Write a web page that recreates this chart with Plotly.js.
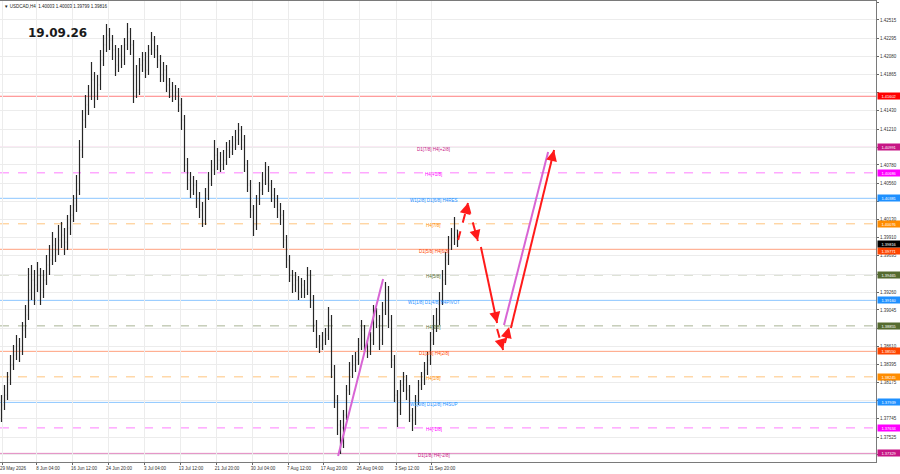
<!DOCTYPE html>
<html><head><meta charset="utf-8">
<script src="https://cdn.plot.ly/plotly-3.0.1.min.js"></script>
<style>html,body{margin:0;padding:0;background:#fff;}#chart{width:900px;height:474px;}</style>
</head><body><div id="chart"></div>
<script>
// ---- candle data (USDCAD H4, grouped bars), index = bar slot ----
const openP = [1.37848,1.37908,1.38027,1.38207,1.38386,1.38506,1.38626,1.38566,1.38805,1.38985,1.39284,1.39403,1.39344,1.39463,1.39284,1.39403,1.39583,1.39643,1.39822,1.39762,1.39882,1.39942,1.39858,1.40026,1.40181,1.40301,1.40480,1.40959,1.41318,1.41498,1.41617,1.41797,1.41617,1.41737,1.42036,1.42216,1.42335,1.42275,1.42156,1.41976,1.42096,1.42036,1.42216,1.42371,1.42216,1.41857,1.41677,1.41976,1.42036,1.41916,1.42156,1.42275,1.42156,1.42036,1.41857,1.41916,1.41737,1.41677,1.41617,1.41653,1.41498,1.41318,1.40780,1.40600,1.40480,1.40540,1.40361,1.40241,1.40121,1.40421,1.40600,1.40720,1.40899,1.40839,1.40780,1.40839,1.40959,1.40935,1.41019,1.41079,1.41198,1.41079,1.40780,1.40540,1.40241,1.40062,1.40361,1.40480,1.40600,1.40720,1.40540,1.40421,1.40361,1.40241,1.40181,1.39882,1.39643,1.39463,1.39344,1.39403,1.39260,1.39344,1.39284,1.39463,1.39164,1.38865,1.38686,1.38626,1.38686,1.38745,1.38925,1.38327,1.37968,1.37669,1.37489,1.37788,1.38087,1.38327,1.38386,1.38446,1.38626,1.38805,1.38626,1.38566,1.38686,1.38985,1.38925,1.38686,1.39045,1.39284,1.38925,1.38446,1.38027,1.37848,1.38147,1.38207,1.38087,1.37788,1.37728,1.37968,1.38147,1.38207,1.38327,1.38446,1.38686,1.38865,1.38925,1.39164,1.39403,1.39643,1.39822,1.39906,1.40003];
const highP = [1.38027,1.38147,1.38303,1.38506,1.38626,1.38745,1.38709,1.38901,1.39104,1.39547,1.39583,1.39523,1.39619,1.39547,1.39523,1.39703,1.39822,1.39978,1.39906,1.40062,1.40097,1.40026,1.40181,1.40301,1.40421,1.40660,1.41079,1.41438,1.41617,1.41737,1.42012,1.41892,1.41857,1.42156,1.42335,1.42467,1.42419,1.42335,1.42216,1.42180,1.42216,1.42299,1.42479,1.42419,1.42275,1.41976,1.42060,1.42132,1.42132,1.42216,1.42371,1.42323,1.42216,1.42096,1.42012,1.41976,1.41821,1.41773,1.41737,1.41701,1.41581,1.41378,1.40863,1.40696,1.40648,1.40600,1.40456,1.40337,1.40504,1.40696,1.40839,1.41079,1.40983,1.40935,1.40959,1.41055,1.41079,1.41127,1.41198,1.41282,1.41246,1.41139,1.40839,1.40600,1.40301,1.40421,1.40576,1.40696,1.40815,1.40768,1.40600,1.40504,1.40421,1.40325,1.40241,1.39942,1.39703,1.39523,1.39499,1.39451,1.39427,1.39403,1.39559,1.39523,1.39224,1.38925,1.38745,1.38781,1.38829,1.39080,1.38985,1.38386,1.38027,1.37728,1.37848,1.38147,1.38422,1.38506,1.38542,1.38709,1.38925,1.38865,1.38686,1.38781,1.39104,1.39068,1.38985,1.39140,1.39379,1.39332,1.38985,1.38506,1.38087,1.38207,1.38303,1.38267,1.38147,1.37872,1.38027,1.38207,1.38303,1.38422,1.38542,1.38781,1.38985,1.39068,1.39260,1.39523,1.39738,1.39930,1.40026,1.40157,1.40003];
const lowP = [1.37704,1.37848,1.37968,1.38147,1.38327,1.38446,1.38422,1.38506,1.38709,1.38925,1.39164,1.39104,1.39260,1.39104,1.39188,1.39344,1.39463,1.39583,1.39619,1.39703,1.39786,1.39703,1.39762,1.39942,1.40097,1.40217,1.40421,1.40863,1.41222,1.41378,1.41557,1.41462,1.41557,1.41677,1.41964,1.42132,1.42156,1.42036,1.41845,1.41892,1.41940,1.41976,1.42156,1.42096,1.41521,1.41581,1.41617,1.41892,1.41821,1.41857,1.42096,1.42060,1.41940,1.41773,1.41773,1.41653,1.41581,1.41533,1.41557,1.41414,1.41198,1.40696,1.40480,1.40385,1.40421,1.40265,1.40145,1.40038,1.40062,1.40361,1.40528,1.40660,1.40720,1.40696,1.40720,1.40780,1.40863,1.40899,1.40959,1.41019,1.40959,1.40696,1.40456,1.40145,1.39930,1.40002,1.40301,1.40421,1.40540,1.40456,1.40337,1.40265,1.40145,1.40062,1.39786,1.39547,1.39379,1.39248,1.39260,1.39164,1.39188,1.39188,1.39224,1.39068,1.38781,1.38590,1.38530,1.38566,1.38626,1.38686,1.38231,1.37872,1.37549,1.37321,1.37393,1.37728,1.38027,1.38231,1.38303,1.38386,1.38566,1.38542,1.38470,1.38506,1.38626,1.38829,1.38566,1.38626,1.38985,1.38829,1.38350,1.37944,1.37645,1.37788,1.38063,1.37968,1.37704,1.37597,1.37669,1.37908,1.38087,1.38147,1.38267,1.38386,1.38626,1.38781,1.38865,1.39104,1.39344,1.39583,1.39762,1.39822,1.39799];
const closeP = [1.37908,1.38027,1.38207,1.38386,1.38506,1.38626,1.38566,1.38805,1.38985,1.39284,1.39403,1.39344,1.39463,1.39284,1.39403,1.39583,1.39643,1.39822,1.39762,1.39882,1.39942,1.39858,1.40026,1.40181,1.40301,1.40480,1.40959,1.41318,1.41498,1.41617,1.41797,1.41617,1.41737,1.42036,1.42216,1.42335,1.42275,1.42156,1.41976,1.42096,1.42036,1.42216,1.42371,1.42216,1.41857,1.41677,1.41976,1.42036,1.41916,1.42156,1.42275,1.42156,1.42036,1.41857,1.41916,1.41737,1.41677,1.41617,1.41653,1.41498,1.41318,1.40780,1.40600,1.40480,1.40540,1.40361,1.40241,1.40121,1.40421,1.40600,1.40720,1.40899,1.40839,1.40780,1.40839,1.40959,1.40935,1.41019,1.41079,1.41198,1.41079,1.40780,1.40540,1.40241,1.40062,1.40361,1.40480,1.40600,1.40720,1.40540,1.40421,1.40361,1.40241,1.40181,1.39882,1.39643,1.39463,1.39344,1.39403,1.39260,1.39344,1.39284,1.39463,1.39164,1.38865,1.38686,1.38626,1.38686,1.38745,1.38925,1.38327,1.37968,1.37669,1.37489,1.37788,1.38087,1.38327,1.38386,1.38446,1.38626,1.38805,1.38626,1.38566,1.38686,1.38985,1.38925,1.38686,1.39045,1.39284,1.38925,1.38446,1.38027,1.37848,1.38147,1.38207,1.38087,1.37788,1.37728,1.37968,1.38147,1.38207,1.38327,1.38446,1.38686,1.38865,1.38925,1.39164,1.39403,1.39643,1.39822,1.39906,1.40002,1.39816];

// ---- axis labels ----
const dateTickPos = [0.2, 11.8, 23.8, 35.5, 47.5, 59.5, 71.5, 83.5, 95.5, 107.2, 119.2, 131.5, 143.2];
const dateTickText = ["29 May 2026","8 Jun 04:00","16 Jun 12:00","24 Jun 20:00","3 Jul 04:00","13 Jul 12:00","21 Jul 20:00","30 Jul 04:00","7 Aug 12:00","17 Aug 20:00","26 Aug 04:00","3 Sep 12:00","11 Sep 20:00"];
const priceTicks = ["1.42730","1.42515","1.42295","1.42080","1.41865","1.41645","1.41430","1.41210","1.40995","1.40780","1.40560","1.40345","1.40130","1.39910","1.39695","1.39475","1.39260","1.39045","1.38825","1.38610","1.38395","1.38175","1.37960","1.37745","1.37525","1.37310"];

// ---- Murrey levels ----
const levelValues = [1.37329,1.37634,1.37939,1.38245,1.38550,1.38855,1.39160,1.39465,1.39771,1.40076,1.40381,1.40686,1.40991,1.41602];
const levelLabels = ["D1[1/8] H4[-2/8]","H4[-1/8]","W1[0/8] D1[2/8] H4SUP","H4[1/8]","D1[3/8] H4[2/8]","H4[3/8]","W1[1/8] D1[4/8] H4PIVOT","H4[5/8]","D1[5/8] H4[6/8]","H4[7/8]","W1[2/8] D1[6/8] H4RES","H4[+1/8]","D1[7/8] H4[+2/8]",""];
const levelColors = ["#c71585","#ff00ff","#1e90ff","#ff8c00","#ff4500","#556b2f","#1e90ff","#556b2f","#ff4500","#ff8c00","#1e90ff","#ff00ff","#c71585","#ff0000"];
const levelDash = ["solid","dash","solid","dash","solid","dash","solid","dash","solid","dash","solid","dash","solid","solid"];
const lastPrice = 1.39816;
const headerText = "\u25BC USDCAD,H4  1.40003 1.40003 1.39799 1.39816";
const dateStamp = "19.09.26";

// ---- drawn forecast arrows [x0,y0,x1,y1,dashed,head] ----
const arrowSegs = [
  [152.2,1.39882,155.5,1.40325,true,true],
  [155.5,1.40301,158.8,1.39870,true,true],
  [159.8,1.39798,165.2,1.38889,false,true],
  [165.2,1.38817,167.2,1.38566,true,true],
  [167.8,1.38650,169.2,1.38841,true,true],
  [169.8,1.38829,184.2,1.40959,false,true]
];
const pinkSegs = [
  [112.2,1.37298,127.2,1.39415],
  [167.5,1.38865,182.2,1.40935]
];

const xIdx = openP.map((_, i) => i);
const yTop = 1.42742, yBot = 1.37226, xMin = -0.5, xMax = 291.5;
const plotW = 876, plotH = 461;
const FONT = "Liberation Sans, Arial, sans-serif";
const pxPerX = plotW / (xMax - xMin), pxPerY = plotH / (yTop - yBot);

const traces = [{
  type: "ohlc", x: xIdx, open: openP, high: highP, low: lowP, close: closeP,
  increasing: {line: {color: "#262626", width: 1.2}},
  decreasing: {line: {color: "#262626", width: 1.2}},
  tickwidth: 0.22, hoverinfo: "skip", showlegend: false
}];

pinkSegs.forEach(s => traces.push({type:"scatter", mode:"lines", x:[s[0],s[2]], y:[s[1],s[3]],
  line:{color:"#d865d4", width:2}, hoverinfo:"skip", showlegend:false}));
arrowSegs.forEach(s => traces.push({type:"scatter", mode:"lines", x:[s[0],s[2]], y:[s[1],s[3]],
  line:{color:"#ff1a1a", width:2, dash: s[4] ? "dash" : "solid"}, hoverinfo:"skip", showlegend:false}));

const shapes = levelValues.map((v, i) => ({
  type: "line", xref: "paper", x0: 0, x1: 1, yref: "y", y0: v, y1: v,
  line: {color: levelColors[i], width: 1, dash: levelDash[i]}, opacity: 0.5, layer: "below"
}));

const annotations = [];
const boxYs = levelValues.concat([lastPrice]);
levelValues.forEach((v, i) => {
  if (levelLabels[i]) annotations.push({x: 144, y: v, xref: "x", yref: "y", text: levelLabels[i],
    showarrow: false, yshift: -2, font: {family: FONT, size: 4.5, color: levelColors[i]}});
  annotations.push({x: 1, y: v, xref: "paper", yref: "y", xanchor: "left", xshift: 1,
    yshift: (Math.abs(v - lastPrice) * pxPerY < 7) ? -1.5 : 0,
    text: v.toFixed(5), showarrow: false, bgcolor: levelColors[i], width: 21, height: 5, borderpad: 0.5,
    font: {family: FONT, size: 4, color: "#ffffff"}});
});
annotations.push({x: 1, y: lastPrice, xref: "paper", yref: "y", xanchor: "left", xshift: 1, yshift: 1.5,
  text: lastPrice.toFixed(5), showarrow: false, bgcolor: "#000000", width: 21, height: 5, borderpad: 0.5,
  font: {family: FONT, size: 4, color: "#ffffff"}});

// tick labels hidden where a price box covers them (as on the terminal)
const tickShown = priceTicks.map(t => boxYs.some(b => Math.abs(Number(t) - b) * pxPerY < 4) ? "" : t);

// arrowheads
arrowSegs.forEach(s => {
  if (!s[5]) return;
  const dx = (s[2] - s[0]) * pxPerX, dy = -(s[3] - s[1]) * pxPerY;
  const L = Math.sqrt(dx*dx + dy*dy);
  annotations.push({x: s[2], y: s[3], xref: "x", yref: "y", showarrow: true, text: "",
    ax: -dx / L * 9, ay: -dy / L * 9, arrowhead: 2, arrowsize: 1.1, arrowwidth: 2, arrowcolor: "#ff1a1a"});
});

annotations.push({x: 0.002, y: 0.998, xref: "paper", yref: "paper", xanchor: "left", yanchor: "top",
  text: headerText, showarrow: false, font: {family: FONT, size: 4.5, color: "#222"}});
annotations.push({x: 57 / plotW, y: 1 - 32 / plotH, xref: "paper", yref: "paper", xanchor: "center", yanchor: "middle",
  text: dateStamp, showarrow: false, font: {family: "DejaVu Sans, sans-serif", size: 12, color: "#1a1a1a", weight: 700}});

const layout = {
  width: 900, height: 474, margin: {l: 0, r: 24, t: 1, b: 12},
  paper_bgcolor: "#ffffff", plot_bgcolor: "#ffffff", showlegend: false,
  xaxis: {range: [xMin, xMax], tickmode: "array", tickvals: dateTickPos, ticktext: dateTickText,
    ticks: "outside", ticklen: 2, tickcolor: "#666", ticklabelshift: 11, showgrid: true,
    gridcolor: "#ececec", zeroline: false, showline: true, linecolor: "#7a7a7a", mirror: true,
    rangeslider: {visible: false}, tickfont: {family: FONT, size: 4.5, color: "#333"}, fixedrange: true},
  yaxis: {range: [yBot, yTop], side: "right", tickmode: "array", tickvals: priceTicks.map(Number),
    ticktext: tickShown, ticks: "outside", ticklen: 2, tickcolor: "#666", showgrid: true,
    gridcolor: "#ececec", zeroline: false, showline: true, linecolor: "#7a7a7a", mirror: true,
    tickfont: {family: FONT, size: 4.5, color: "#333"}, fixedrange: true},
  shapes: shapes, annotations: annotations
};
Plotly.newPlot("chart", traces, layout, {displayModeBar: false, staticPlot: true});
</script></body></html>
